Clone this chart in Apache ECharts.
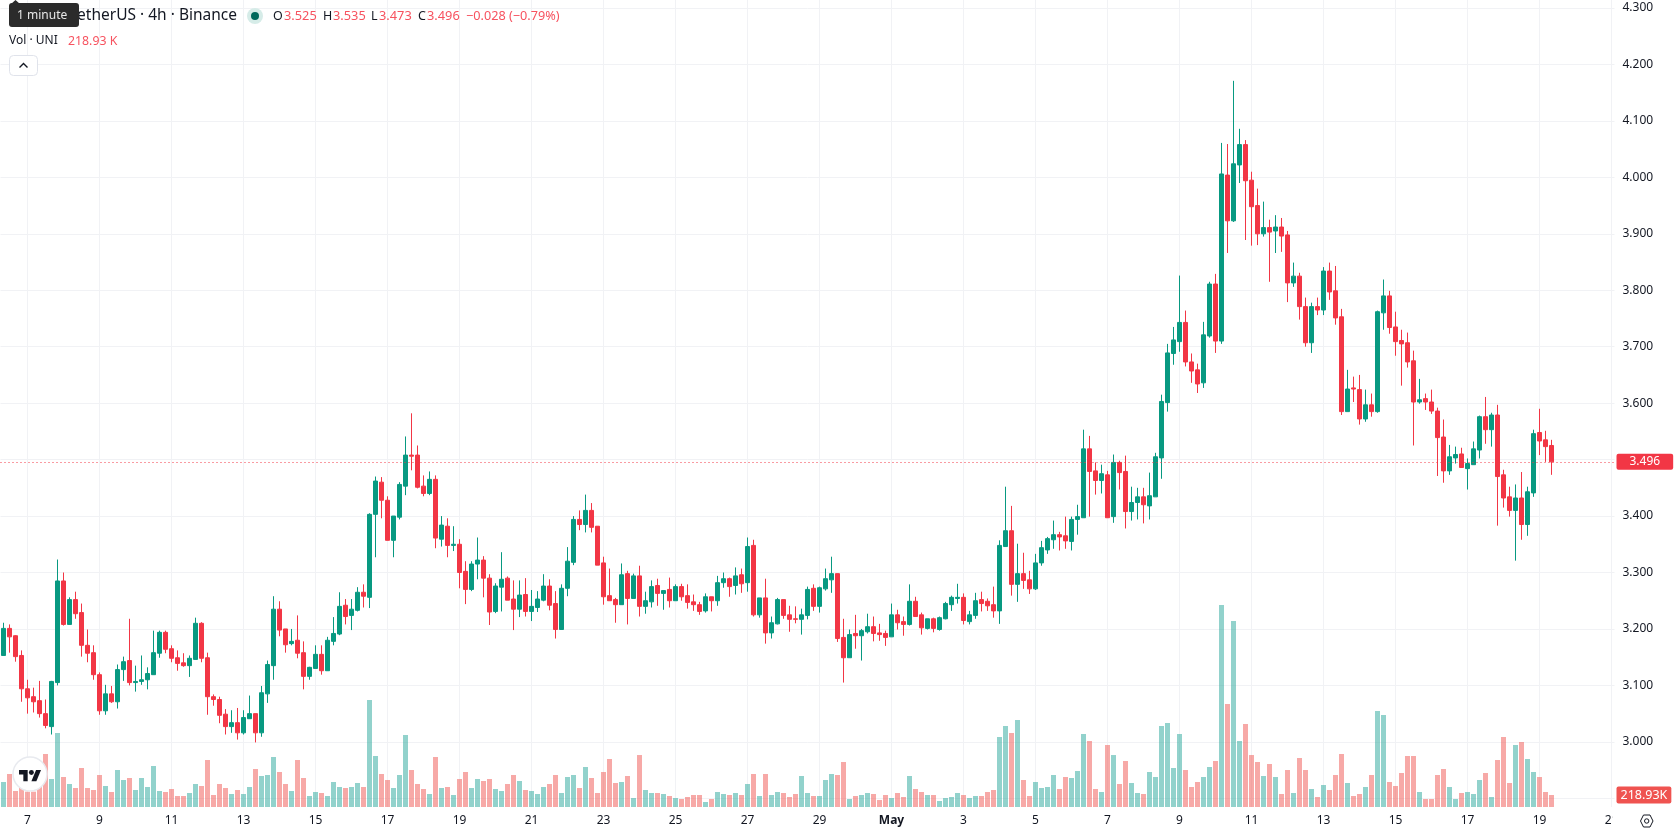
<!DOCTYPE html>
<html>
<head>
<meta charset="utf-8">
<title>UNI / TetherUS 4h</title>
<script src="https://cdn.jsdelivr.net/npm/echarts@6/dist/echarts.min.js"></script>
<style>
html,body{margin:0;padding:0;background:#fff;overflow:hidden}
#chart{width:1678px;height:835px}
</style>
</head>
<body>
<div id="chart"></div>
<script>
// Four-hour UNI/USDT candles, oldest first
const opens = [
3.153,3.201,3.188,3.153,3.094,3.080,3.073,3.050,3.027,3.105,
3.285,3.208,3.252,3.229,3.171,3.158,3.119,3.055,3.085,3.071,
3.128,3.144,3.105,3.107,3.110,3.119,3.157,3.194,3.165,3.149,
3.140,3.135,3.146,3.210,3.149,3.080,3.075,3.049,3.027,3.034,
3.016,3.041,3.050,3.016,3.085,3.135,3.235,3.200,3.174,3.180,
3.158,3.116,3.130,3.155,3.126,3.178,3.191,3.242,3.224,3.233,
3.265,3.256,3.403,3.460,3.428,3.357,3.398,3.453,3.508,3.508,
3.453,3.440,3.465,3.359,3.382,3.348,3.350,3.302,3.270,3.315,
3.322,3.290,3.231,3.274,3.290,3.253,3.235,3.261,3.231,3.238,
3.251,3.276,3.245,3.199,3.272,3.318,3.394,3.385,3.410,3.382,
3.317,3.259,3.252,3.243,3.298,3.254,3.294,3.240,3.248,3.277,
3.263,3.270,3.250,3.275,3.259,3.248,3.243,3.232,3.257,3.250,
3.282,3.289,3.277,3.296,3.282,3.348,3.225,3.255,3.193,3.209,
3.252,3.225,3.218,3.217,3.224,3.272,3.240,3.271,3.287,3.298,
3.185,3.149,3.192,3.188,3.195,3.204,3.193,3.192,3.186,3.225,
3.213,3.208,3.249,3.225,3.201,3.218,3.199,3.218,3.243,3.254,
3.256,3.213,3.224,3.252,3.249,3.243,3.232,3.346,3.374,3.279,
3.298,3.287,3.271,3.317,3.340,3.358,3.367,3.365,3.355,3.394,
3.397,3.519,3.480,3.463,3.473,3.399,3.495,3.479,3.408,3.424,
3.434,3.418,3.434,3.503,3.601,3.688,3.709,3.743,3.673,3.659,
3.636,3.719,3.811,3.710,4.004,3.923,4.022,4.058,3.995,3.950,
3.900,3.911,3.905,3.912,3.898,3.813,3.825,3.771,3.707,3.771,
3.765,3.834,3.799,3.753,3.585,3.627,3.624,3.572,3.597,3.585,
3.760,3.790,3.735,3.711,3.707,3.675,3.602,3.608,3.602,3.586,
3.540,3.480,3.503,3.510,3.484,3.491,3.517,3.576,3.553,3.579,
3.473,3.434,3.410,3.432,3.385,3.441,3.548,3.535,3.525];
const closes = [
3.201,3.186,3.151,3.094,3.078,3.071,3.050,3.029,3.107,3.285,
3.208,3.252,3.227,3.171,3.157,3.119,3.055,3.085,3.071,3.128,
3.142,3.105,3.107,3.110,3.121,3.158,3.194,3.164,3.148,3.139,
3.135,3.148,3.210,3.148,3.080,3.075,3.047,3.027,3.034,3.016,
3.043,3.050,3.016,3.087,3.137,3.235,3.198,3.172,3.178,3.157,
3.116,3.132,3.155,3.126,3.180,3.192,3.240,3.222,3.235,3.265,
3.258,3.403,3.462,3.428,3.357,3.400,3.456,3.508,3.506,3.451,
3.440,3.465,3.361,3.384,3.348,3.350,3.300,3.270,3.315,3.322,
3.290,3.230,3.276,3.288,3.251,3.235,3.260,3.231,3.240,3.253,
3.276,3.242,3.199,3.272,3.320,3.394,3.385,3.410,3.380,3.313,
3.257,3.250,3.243,3.296,3.254,3.294,3.240,3.250,3.275,3.263,
3.268,3.250,3.275,3.257,3.247,3.243,3.231,3.257,3.250,3.282,
3.289,3.275,3.294,3.280,3.346,3.225,3.255,3.193,3.211,3.252,
3.224,3.217,3.217,3.225,3.270,3.240,3.273,3.289,3.298,3.183,
3.149,3.190,3.188,3.197,3.204,3.192,3.190,3.185,3.225,3.211,
3.208,3.249,3.222,3.202,3.218,3.201,3.220,3.245,3.256,3.256,
3.215,3.225,3.250,3.245,3.241,3.232,3.348,3.374,3.279,3.298,
3.286,3.271,3.317,3.344,3.360,3.367,3.363,3.356,3.394,3.399,
3.519,3.479,3.463,3.475,3.397,3.495,3.477,3.408,3.424,3.434,
3.420,3.436,3.505,3.603,3.689,3.712,3.743,3.673,3.657,3.634,
3.721,3.811,3.710,4.006,3.923,4.024,4.058,3.994,3.948,3.900,
3.911,3.903,3.912,3.896,3.813,3.825,3.771,3.707,3.771,3.765,
3.834,3.797,3.751,3.585,3.625,3.625,3.572,3.597,3.585,3.762,
3.790,3.734,3.709,3.705,3.673,3.602,3.606,3.602,3.586,3.539,
3.480,3.505,3.509,3.486,3.493,3.519,3.576,3.553,3.579,3.470,
3.432,3.410,3.432,3.385,3.443,3.546,3.533,3.523,3.496];
const lows = [
3.153,3.158,3.142,3.071,3.050,3.052,3.043,3.024,3.013,3.100,
3.206,3.208,3.218,3.151,3.141,3.110,3.048,3.048,3.069,3.059,
3.108,3.100,3.089,3.101,3.093,3.119,3.149,3.157,3.141,3.126,
3.133,3.115,3.146,3.141,3.048,3.064,3.033,3.013,3.016,3.004,
3.013,3.041,2.999,3.009,3.069,3.110,3.187,3.158,3.171,3.148,
3.093,3.110,3.130,3.119,3.126,3.171,3.189,3.208,3.198,3.231,
3.238,3.237,3.327,3.396,3.357,3.327,3.394,3.437,3.481,3.449,
3.435,3.437,3.343,3.346,3.327,3.338,3.272,3.244,3.267,3.288,
3.256,3.207,3.228,3.231,3.251,3.198,3.221,3.222,3.214,3.230,
3.249,3.233,3.183,3.199,3.258,3.313,3.375,3.371,3.371,3.313,
3.243,3.250,3.211,3.243,3.208,3.254,3.222,3.227,3.238,3.241,
3.234,3.238,3.250,3.250,3.236,3.232,3.225,3.229,3.231,3.241,
3.273,3.257,3.261,3.264,3.266,3.222,3.220,3.174,3.183,3.208,
3.218,3.195,3.210,3.190,3.217,3.232,3.229,3.268,3.264,3.177,
3.105,3.149,3.165,3.144,3.192,3.178,3.179,3.170,3.186,3.199,
3.188,3.206,3.222,3.190,3.199,3.194,3.197,3.217,3.232,3.245,
3.208,3.208,3.218,3.231,3.232,3.220,3.209,3.346,3.259,3.248,
3.271,3.262,3.269,3.312,3.333,3.342,3.339,3.342,3.339,3.367,
3.397,3.399,3.438,3.440,3.397,3.388,3.447,3.378,3.392,3.394,
3.387,3.394,3.434,3.466,3.585,3.668,3.691,3.665,3.636,3.618,
3.627,3.716,3.689,3.705,3.866,3.921,3.990,3.889,3.879,3.880,
3.895,3.815,3.866,3.868,3.779,3.806,3.748,3.700,3.689,3.756,
3.756,3.783,3.739,3.579,3.585,3.602,3.562,3.567,3.576,3.583,
3.730,3.723,3.684,3.631,3.663,3.525,3.599,3.588,3.581,3.471,
3.459,3.473,3.493,3.486,3.447,3.491,3.502,3.528,3.523,3.383,
3.415,3.399,3.321,3.358,3.365,3.434,3.508,3.496,3.473];
const highs = [
3.211,3.208,3.189,3.162,3.110,3.096,3.108,3.075,3.108,3.323,
3.300,3.256,3.266,3.245,3.199,3.171,3.123,3.101,3.099,3.137,
3.151,3.218,3.135,3.153,3.132,3.197,3.197,3.197,3.171,3.162,
3.157,3.153,3.220,3.212,3.158,3.084,3.080,3.058,3.056,3.060,
3.056,3.082,3.050,3.099,3.144,3.258,3.249,3.200,3.200,3.224,
3.178,3.133,3.171,3.171,3.186,3.221,3.265,3.253,3.253,3.274,
3.279,3.405,3.470,3.469,3.435,3.400,3.460,3.541,3.582,3.525,
3.472,3.479,3.472,3.400,3.396,3.382,3.359,3.320,3.320,3.362,
3.329,3.297,3.281,3.336,3.293,3.286,3.286,3.290,3.269,3.267,
3.297,3.288,3.267,3.279,3.345,3.400,3.410,3.438,3.423,3.382,
3.328,3.307,3.255,3.316,3.303,3.298,3.312,3.266,3.286,3.289,
3.268,3.291,3.279,3.280,3.279,3.261,3.248,3.263,3.257,3.294,
3.300,3.291,3.309,3.307,3.362,3.358,3.255,3.289,3.222,3.255,
3.252,3.241,3.240,3.236,3.275,3.279,3.275,3.307,3.328,3.298,
3.218,3.199,3.225,3.200,3.227,3.222,3.209,3.197,3.245,3.234,
3.222,3.279,3.257,3.229,3.218,3.220,3.222,3.248,3.259,3.280,
3.263,3.232,3.264,3.266,3.254,3.275,3.357,3.452,3.418,3.351,
3.335,3.303,3.333,3.356,3.363,3.392,3.372,3.399,3.399,3.420,
3.553,3.542,3.495,3.491,3.480,3.509,3.498,3.507,3.452,3.450,
3.450,3.477,3.512,3.615,3.705,3.735,3.826,3.764,3.688,3.670,
3.744,3.815,3.829,4.061,4.059,4.171,4.086,4.066,4.010,3.980,
3.957,3.925,3.933,3.928,3.905,3.849,3.831,3.787,3.778,3.787,
3.841,3.849,3.843,3.767,3.659,3.647,3.650,3.624,3.617,3.764,
3.819,3.799,3.762,3.730,3.725,3.693,3.643,3.617,3.624,3.592,
3.571,3.526,3.523,3.521,3.502,3.532,3.578,3.611,3.583,3.597,
3.482,3.452,3.456,3.478,3.452,3.553,3.590,3.551,3.535];
// Traded volume per candle, in thousands of UNI
const volumes = [
456,602,292,371,280,280,492,967,511,1350,
547,420,347,711,347,310,584,383,274,675,
492,529,310,529,365,748,292,274,328,201,
201,255,420,383,857,219,420,347,237,310,
237,365,693,565,584,912,638,420,292,857,
529,201,274,255,201,456,365,347,365,438,
365,1952,930,602,492,347,584,1313,675,420,
328,237,912,347,365,219,511,638,347,511,
474,511,328,292,420,584,474,310,292,237,
365,420,584,255,547,584,347,730,529,255,
638,876,438,456,565,164,948,310,255,255,
237,201,164,146,182,219,219,91,146,274,
237,219,255,219,420,602,201,602,219,274,
255,182,237,565,255,201,201,492,602,584,
821,146,201,219,255,237,128,219,164,255,
182,565,328,274,219,219,109,164,182,255,
219,164,201,201,274,310,1277,1477,1350,1587,
492,201,456,347,365,584,328,547,529,657,
1332,1204,328,274,1131,948,420,839,438,255,
237,638,547,1477,1532,711,1332,675,365,456,
547,730,839,3684,1879,3393,1204,1514,948,821,
565,784,547,237,675,255,894,675,328,182,
401,310,584,967,438,201,237,365,584,1751,
1678,456,383,620,930,930,274,146,146,584,
693,365,146,255,274,237,492,620,182,857,
1277,438,1131,1186,876,638,547,274,218.93];
// Day marks along the time axis, one every twelve candles from the fifth
const dayTicks = ['7','9','11','13','15','17','19','21','23','25','27','29','May','3','5','7','9','11','13','15','17','19','21'];
const firstTickIndex = 4;
const candlesPerTick = 12;
const slotCount = 269;
const lastClose = 3.496;
const lastVolume = 218.93;
const priceMin = 2.9, priceMax = 4.3, priceStep = 0.1;
const volumeAxisMax = 14720;

const UP = '#089981', DOWN = '#F23645';
const FONT = '"Noto Sans", sans-serif';
const INK = '#131722';
const RED_TEXT = '#F7525F';

const isTick = i => i >= firstTickIndex && (i - firstTickIndex) % candlesPerTick === 0;
const categories = Array.from({length: slotCount}, (_, i) =>
  isTick(i) ? dayTicks[(i - firstTickIndex) / candlesPerTick] : '');
const candleData = opens.map((o, i) => [o, closes[i], lows[i], highs[i]]);
const volumeData = volumes.map((v, i) => ({
  value: v,
  itemStyle: {color: closes[i] >= opens[i] ? 'rgba(38,166,154,0.5)' : 'rgba(239,83,80,0.5)'}
}));

const txt = (x, y, text, fill, size, extra) => ({
  type: 'text', z: 200, silent: true, x, y,
  style: Object.assign({text, fill, font: `${size || 13}px ${FONT}`, verticalAlign: 'middle'}, extra || {})
});

// TradingView mark, drawn on a 36-unit wide box
const logoPart = (points) => ({
  type: 'polygon', z: 181, silent: true, x: 19, y: 767.6, scaleX: 0.62, scaleY: 0.62,
  shape: {points}, style: {fill: '#131722'}
});

const overlay = [
  // Cover for the time labels under the price scale
  {type: 'rect', z: 150, silent: true, shape: {x: 1613, y: 808, width: 65, height: 27}, style: {fill: '#fff'}},
  // Symbol line
  txt(237, 16, 'UNI / TetherUS · 4h · Binance', INK, 15.5, {align: 'right'}),
  {type: 'circle', z: 200, silent: true, shape: {cx: 255, cy: 16, r: 8}, style: {fill: '#d6ece8'}},
  {type: 'circle', z: 201, silent: true, shape: {cx: 255, cy: 16, r: 4}, style: {fill: '#00695c'}},
  txt(273, 16, 'O', INK, 12.5), txt(284, 16, '3.525', RED_TEXT, 12.8),
  txt(323, 16, 'H', INK, 12.5), txt(333, 16, '3.535', RED_TEXT, 12.8),
  txt(371, 16, 'L', INK, 12.5), txt(379, 16, '3.473', RED_TEXT, 12.8),
  txt(418, 16, 'C', INK, 12.5), txt(427, 16, '3.496', RED_TEXT, 12.8),
  txt(466, 16, '−0.028 (−0.79%)', RED_TEXT, 12.7),
  // Volume legend
  txt(9, 41, 'Vol · UNI', INK, 12), txt(68, 41, '218.93 K', RED_TEXT, 12.3),
  // Collapse button
  {type: 'rect', z: 200, silent: true, shape: {x: 9.5, y: 55.5, width: 28, height: 20, r: 4},
   style: {fill: '#fff', stroke: '#e0e3eb', lineWidth: 1}},
  {type: 'polyline', z: 201, silent: true, shape: {points: [[19.5, 67.5], [23.5, 63.5], [27.5, 67.5]]},
   style: {stroke: INK, lineWidth: 1.4, fill: null}},
  // Hover hint
  {type: 'polygon', z: 210, silent: true, shape: {points: [[11, 4], [15.5, 0], [20, 4]]}, style: {fill: '#2b2b2b'}},
  {type: 'rect', z: 210, silent: true, shape: {x: 9, y: 3, width: 70, height: 24, r: 3}, style: {fill: '#2b2b2b'}},
  Object.assign(txt(17, 15.5, '1 minute', '#e8e8e8', 12), {z: 211}),
  // Brand badge
  {type: 'circle', z: 180, silent: true, shape: {cx: 30, cy: 774, r: 17}, style: {fill: '#fff', stroke: '#e8eaef', lineWidth: 1.5}},
  logoPart([[0, 4], [14, 4], [14, 22], [7, 22], [7, 11], [0, 11]]),
  logoPart([[20, 22], [28, 22], [35.5, 4], [27.5, 4]]),
  {type: 'circle', z: 181, silent: true, x: 19, y: 767.6, scaleX: 0.62, scaleY: 0.62,
   shape: {cx: 20, cy: 8, r: 4}, style: {fill: '#131722'}},
  // Scale settings icon
  {type: 'polygon', z: 200, silent: true,
   shape: {points: [[1640.5, 821], [1643.5, 815], [1650, 815], [1653, 821], [1650, 827], [1643.5, 827]]},
   style: {fill: '#fff', stroke: INK, lineWidth: 1}},
  {type: 'circle', z: 201, silent: true, shape: {cx: 1646.7, cy: 821, r: 2.2}, style: {fill: '#fff', stroke: INK, lineWidth: 1}}
];

const chart = echarts.init(document.getElementById('chart'), null, {renderer: 'canvas'});
const GRID_LEFT = 0.5, GRID_WIDTH = 1614;

chart.setOption({
  animation: false,
  backgroundColor: '#fff',
  textStyle: {fontFamily: FONT},
  grid: [
    {left: GRID_LEFT, width: GRID_WIDTH, top: 8, height: 790.3, containLabel: false},
    {left: GRID_LEFT, width: GRID_WIDTH, top: 0, height: 807, containLabel: false}
  ],
  xAxis: [
    {type: 'category', gridIndex: 0, data: categories, show: false},
    {
      type: 'category', gridIndex: 1, data: categories,
      axisLine: {show: false}, axisTick: {show: false},
      axisLabel: {
        interval: 0, margin: 8, color: INK, fontSize: 12, fontFamily: FONT,
        formatter: v => v === 'May' ? '{b|May}' : v,
        rich: {b: {fontWeight: 'bold', fontSize: 12, color: INK, fontFamily: FONT}}
      },
      splitLine: {
        show: true, alignWithLabel: true,
        interval: i => isTick(i),
        lineStyle: {color: '#f1f2f5', width: 1}
      }
    }
  ],
  yAxis: [
    {
      type: 'value', gridIndex: 0, position: 'right', min: priceMin, max: priceMax, interval: priceStep,
      axisLine: {show: false}, axisTick: {show: false},
      axisLabel: {margin: 8, color: INK, fontSize: 12, fontFamily: FONT,
        formatter: v => v < 2.95 ? '' : v.toFixed(3)},
      splitLine: {show: true, lineStyle: {color: '#f1f2f5', width: 1}}
    },
    {type: 'value', gridIndex: 1, min: 0, max: volumeAxisMax, show: false}
  ],
  series: [
    {
      type: 'bar', name: 'Vol', xAxisIndex: 1, yAxisIndex: 1, barWidth: 5, z: 1,
      data: volumeData,
      markLine: {
        silent: true, symbol: 'none', precision: 2,
        lineStyle: {color: 'rgba(0,0,0,0)', width: 1},
        label: {
          position: 'end', distance: 2, formatter: '218.93K', color: '#fff', fontSize: 12.5, fontFamily: FONT,
          backgroundColor: '#EF5350', borderRadius: 2, padding: [2, 4, 2, 4]
        },
        data: [{yAxis: lastVolume}]
      }
    },
    {
      type: 'candlestick', name: 'UNIUSDT', xAxisIndex: 0, yAxisIndex: 0, barWidth: 4, z: 3,
      data: candleData,
      itemStyle: {color: UP, color0: DOWN, borderColor: UP, borderColor0: DOWN, borderWidth: 1},
      markLine: {
        silent: true, symbol: 'none', precision: 3,
        lineStyle: {type: [1, 3], color: DOWN, width: 1},
        label: {
          position: 'end', distance: 2, formatter: '3.496', color: '#fff', fontSize: 12, fontFamily: FONT,
          backgroundColor: DOWN, borderRadius: 2, padding: [2, 13, 2, 13]
        },
        data: [{yAxis: lastClose}]
      }
    }
  ],
  graphic: overlay
});
</script>
</body>
</html>
